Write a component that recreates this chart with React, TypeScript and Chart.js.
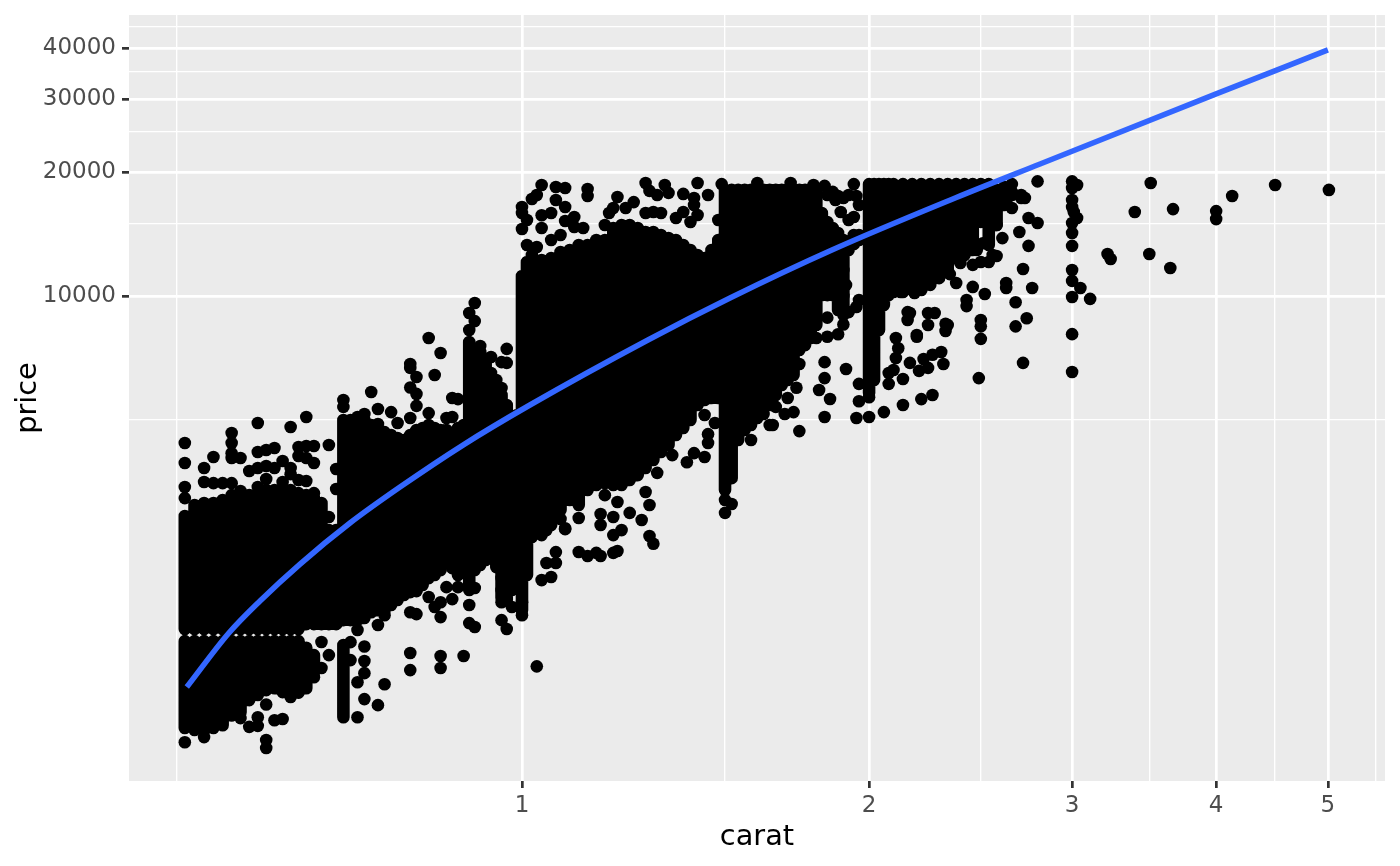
import { useEffect, useRef } from "react";
import { Chart } from "chart.js/auto";

// price ranges that are fully overplotted, one entry per carat value
const denseCarats = [
  0.51, 0.52, 0.53, 0.54, 0.55, 0.56, 0.57, 0.58, 0.59, 0.6, 0.61, 0.62, 0.63, 0.64, 0.65, 0.66, 0.67, 0.68, 0.69,
  0.7, 0.71, 0.72, 0.73, 0.74, 0.75, 0.76, 0.77, 0.78, 0.79, 0.8, 0.81, 0.82, 0.83, 0.84, 0.85, 0.86, 0.87, 0.88, 0.89,
  0.9, 0.91, 0.92, 0.93, 0.94, 0.95, 0.96, 0.97, 0.98, 0.99, 1.0, 1.01, 1.02, 1.04, 1.06, 1.08, 1.1, 1.12, 1.14, 1.16,
  1.18, 1.2, 1.22, 1.24, 1.26, 1.28, 1.3, 1.32, 1.34, 1.36, 1.38, 1.4, 1.42, 1.44, 1.46, 1.48, 1.5, 1.52, 1.54, 1.56,
  1.58, 1.6, 1.62, 1.64, 1.66, 1.68, 1.7, 1.72, 1.74, 1.76, 1.78, 1.8, 1.82, 1.84, 1.86, 1.88, 1.9, 1.92, 1.94, 1.96,
  2.0, 2.02, 2.04, 2.06, 2.08, 2.1, 2.14, 2.18, 2.22, 2.26, 2.3, 2.34, 2.38, 2.42, 2.46, 2.5, 2.54, 2.58, 2.62, 2.66,
];
const denseHighs = [
  2923, 3110, 3145, 3145, 3197, 3197, 3250, 3286, 3323, 3381, 3381, 3381, 3381, 3323, 3286, 3232, 3145, 2703, 2703,
  5000, 5000, 4863, 5000, 4863, 4728, 4674, 4600, 4523, 4472, 4600, 4728, 4782, 4863, 4782, 4728, 4728, 4650, 4782, 4863,
  7733, 7396, 7310, 6994, 6254, 6080, 5750, 5437, 5000, 5141, 11180, 12090, 12570, 12230, 12370, 12790, 12930, 13300, 13300, 13510,
  13670, 14620, 14870, 14870, 14620, 14300, 14300, 14060, 13830, 13670, 13300, 12930, 12570, 12370, 12930, 13670, 18090, 18090, 18090, 18090,
  18090, 18090, 18090, 18090, 18090, 18090, 18090, 18090, 18090, 18090, 18090, 18090, 15900, 15120, 14620, 14220, 13670, 13510, 14060, 14060,
  18690, 18690, 18690, 18690, 18690, 18690, 18690, 18690, 18690, 18690, 18690, 18690, 18690, 18690, 18690, 18690, 18690, 18090, 18390, 17890,
];
const denseLows = [
  1555, 1555, 1555, 1555, 1555, 1555, 1555, 1555, 1555, 1555, 1555, 1555, 1555, 1555, 1598, 1598, 1598, 1598, 1598,
  1634, 1634, 1634, 1653, 1708, 1728, 1728, 1778, 1828, 1880, 1911, 1933, 1988, 2067, 2102, 2161, 2260, 2445, 2102, 2223,
  1933, 2161, 2223, 2286, 2350, 2223, 1849, 1828, 1933, 2102, 1728, 2102, 2600, 2628, 2780, 3023, 3197, 3110, 3381, 3476,
  3514, 3476, 3476, 3575, 3675, 3823, 3998, 4180, 4350, 4600, 4782, 5000, 5437, 5592, 5655, 5655, 3381, 3613, 4472, 4728,
  4863, 5057, 5437, 5437, 5750, 6080, 6254, 6430, 7396, 7600, 7910, 8500, 10050, 10050, 10050, 9248, 8990, 12930, 13360, 13670,
  5816, 6254, 8270, 9510, 10050, 10230, 10230, 10340, 10340, 10640, 11050, 11560, 12370, 12570, 12930, 15130, 13300, 14870, 16630, 17590,
];

// the same, below the empty price band around 1500
const lowerCarats = [0.51, 0.52, 0.53, 0.54, 0.55, 0.56, 0.57, 0.58, 0.59, 0.6, 0.61, 0.62, 0.63, 0.64, 0.65, 0.66, 0.7];
const lowerHighs = [1453, 1453, 1453, 1453, 1453, 1453, 1453, 1453, 1453, 1453, 1453, 1453, 1453, 1453, 1400, 1344, 1422];
const lowerLows = [894, 884, 879, 894, 908, 960, 977, 1045, 1075, 1105, 1117, 1093, 1075, 1093, 1117, 1222, 950];

// diamonds that can be told apart: [carat, price]
const looseDiamonds = [
  [0.51, 4398], [0.51, 3933], [0.51, 3439], [0.51, 3232], [0.53, 3823], [0.53, 3535], [0.54, 4066], [0.54, 3514], [0.55, 3514],
  [0.56, 4650], [0.56, 4398], [0.56, 4155], [0.56, 4043], [0.56, 3514], [0.56, 3286], [0.57, 4043], [0.57, 3362], [0.58, 3760],
  [0.59, 4918], [0.59, 4180], [0.59, 3823], [0.59, 3439], [0.6, 4228], [0.6, 3866], [0.6, 3595], [0.61, 4276], [0.61, 3823],
  [0.62, 3975], [0.62, 3535], [0.63, 4810], [0.63, 3823], [0.63, 3695], [0.64, 4300], [0.64, 4088], [0.64, 3575], [0.65, 5083],
  [0.65, 4325], [0.65, 4043], [0.65, 3555], [0.66, 4325], [0.66, 3933], [0.66, 3323], [0.68, 4350], [0.68, 2908], [0.69, 3802],
  [0.69, 3400], [0.7, 5592], [0.7, 5380], [0.74, 5848], [0.75, 5318], [0.73, 5170], [0.72, 5083], [0.75, 4890], [0.77, 5226],
  [0.78, 4918], [0.8, 5057], [0.83, 5197], [0.83, 7910], [0.85, 7270], [0.84, 6430], [0.8, 6840], [0.8, 6690], [0.81, 6360],
  [0.8, 5995], [0.81, 5785], [0.81, 5410], [0.87, 5655], [0.88, 5620], [0.86, 5057], [0.87, 5083], [0.9, 9090], [0.91, 9618],
  [0.91, 8690], [0.9, 8270], [0.92, 7560], [0.94, 7110], [0.97, 7440], [0.96, 6910], [0.97, 6880], [0.94, 6500], [0.95, 6254],
  [0.96, 5980], [0.87, 2380], [0.87, 2185], [0.86, 1965], [0.88, 1965], [0.91, 1955], [0.83, 1859], [0.81, 1922], [0.87, 1838],
  [0.85, 1806], [0.84, 1758], [0.9, 1778], [0.85, 1662], [0.9, 1607], [0.91, 1572], [0.81, 1690], [0.8, 1708], [0.76, 1680],
  [0.75, 1590], [0.72, 1546], [0.71, 1445], [0.73, 1410], [0.73, 1300], [0.8, 1360], [0.8, 1236], [0.85, 1337], [0.85, 1250],
  [0.89, 1337], [1.03, 1262], [0.76, 1142], [0.75, 1016], [0.73, 1215], [0.73, 1051], [0.72, 1155], [0.72, 950], [0.67, 1446],
  [0.68, 1344], [0.67, 1250], [0.66, 1188], [0.6, 1020], [0.6, 836], [0.6, 800], [0.61, 934], [0.62, 940], [0.58, 900],
  [0.59, 905], [0.59, 950], [0.57, 945], [0.56, 960], [0.51, 826], [0.53, 850], [0.63, 1063], [0.64, 1090], [0.65, 1330],
  [0.71, 1307], [0.97, 1555], [0.96, 1634], [1.0, 1680], [0.96, 2067], [0.98, 2067], [0.96, 1933], [0.96, 1806], [1.0, 1806],
  [0.95, 2198], [0.98, 1758], [1.07, 2390], [1.07, 2248], [1.06, 2080], [1.04, 2044], [1.05, 2703], [1.09, 2730], [1.08, 2875],
  [1.05, 2908], [1.12, 2891], [1.09, 2717], [1.17, 2956], [1.17, 2780], [1.18, 3286], [1.2, 2628], [1.22, 2703], [1.2, 2908],
  [1.24, 2975], [1.21, 3162], [1.27, 2859], [1.29, 3110], [1.28, 3343], [1.29, 2614], [1.3, 2504], [1.31, 3722], [1.39, 3950],
  [1.41, 4155], [1.44, 4066], [1.35, 4110], [1.45, 4398], [1.45, 4620], [1.44, 5141], [1.47, 4918], [1.58, 4472], [1.64, 4863],
  [1.62, 5170], [1.57, 5197], [1.55, 5000], [1.66, 5380], [1.5, 3197], [1.52, 3128], [1.5, 2975], [1.12, 2392], [1.14, 2338],
  [1.16, 2380], [1.17, 2338], [1.2, 2380], [1.21, 2405], [1.05, 2248], [1.04, 18600], [1.07, 18390], [1.09, 18290], [1.14, 18190],
  [1.14, 17490], [1.03, 17590], [1.02, 17200], [1.0, 16440], [1.0, 15900], [1.07, 17100], [1.09, 16440], [1.21, 17390], [1.25, 16900],
  [1.23, 16350], [1.2, 16350], [1.19, 15900], [1.28, 18810], [1.29, 17990], [1.31, 17590], [1.33, 18600], [1.34, 17790], [1.38, 17690],
  [1.42, 18810], [1.41, 17290], [1.45, 17590], [1.41, 16630], [1.49, 18690], [1.0, 14540], [1.01, 15290], [1.04, 15700], [1.06, 15900],
  [1.04, 14620], [1.09, 15210], [1.11, 15550], [1.13, 14620], [1.11, 14700], [1.08, 14060], [1.06, 13670], [1.01, 13300], [1.03, 13150],
  [1.16, 13670], [1.18, 14870], [1.28, 15900], [1.3, 15990], [1.32, 15900], [1.38, 15990], [1.36, 15460], [1.42, 15730], [1.4, 15120],
  [1.48, 15290], [1.6, 18810], [1.71, 18810], [1.79, 18600], [1.83, 18500], [1.94, 18690], [1.84, 17590], [1.88, 17490], [1.9, 17290],
  [1.92, 17590], [1.95, 17490], [1.96, 16630], [1.87, 17100], [1.89, 15990], [1.92, 15290], [1.94, 15550], [1.86, 17890], [1.84, 8860],
  [1.9, 8530], [1.88, 8075], [1.84, 7960], [1.8, 7910], [1.96, 9779], [1.95, 9400], [1.92, 9140], [1.9, 10000], [1.91, 10640],
  [1.9, 11560], [1.83, 6910], [1.91, 6650], [1.83, 6320], [1.81, 5914], [1.85, 5625], [1.83, 5083], [1.74, 4700], [1.72, 5226],
  [1.69, 5170], [1.65, 4863], [1.7, 5655], [1.73, 5990], [1.74, 6840], [1.95, 5057], [2.0, 5083], [2.06, 5226], [2.14, 5437],
  [2.22, 5620], [2.27, 5750], [1.96, 5555], [2.0, 5680], [1.96, 6120], [2.14, 6290], [2.21, 6580], [2.25, 6690], [2.32, 6840],
  [2.17, 6880], [2.11, 7070], [2.12, 7470], [2.11, 7910], [2.2, 7960], [2.16, 8745], [2.17, 9090], [2.25, 8500], [2.25, 9090],
  [2.28, 9090], [2.33, 8560], [2.33, 8220], [2.43, 9450], [2.23, 7030], [2.27, 7200], [2.31, 7310], [2.08, 6500], [2.08, 6120],
  [2.1, 6613], [2.5, 8745], [2.5, 8440], [2.5, 7870], [2.49, 6320], [2.16, 9140], [2.34, 8500], [2.2, 8040], [2.03, 8430],
  [2.13, 10230], [2.19, 10170], [2.8, 18980], [3.0, 18980], [3.03, 18600], [3.0, 18290], [3.0, 17100], [3.0, 16440], [3.01, 15990],
  [3.03, 15460], [3.0, 15040], [3.0, 14220], [3.0, 13230], [3.0, 11560], [3.0, 10880], [3.05, 10460], [3.0, 9945], [3.11, 9840],
  [3.0, 8080], [3.0, 6540], [3.51, 18810], [3.4, 15990], [3.67, 16250], [3.22, 12640], [3.24, 12300], [3.5, 12640], [3.65, 11690],
  [4.0, 16070], [4.0, 15370], [4.13, 17490], [4.5, 18600], [5.01, 18090], [2.71, 17590], [2.73, 17290], [2.71, 17290], [2.75, 15460],
  [2.8, 15040], [2.7, 14300], [2.61, 13820], [2.75, 13230], [2.72, 11630], [2.63, 10750], [2.63, 10460], [2.77, 10460], [2.68, 9660],
  [2.74, 8830], [2.68, 8440], [2.72, 6880], [2.46, 10520], [2.52, 10110], [2.43, 9779], [2.38, 10750], [2.35, 11300], [2.66, 16350],
  [2.64, 17390], [2.66, 18690], [2.58, 12500], [2.54, 12090], [2.5, 12090], [2.46, 11900], [2.4, 12030], [2.42, 13600], [2.48, 12930],
  [2.51, 13430], [2.45, 13060], [2.58, 14870], [2.56, 12570],
];

// blue trend line
const fitCarats = [0.512, 0.5569, 0.5926, 0.642, 0.7093, 0.7838, 0.8889, 1.016, 1.286, 1.515, 1.857, 2.375, 2.814, 4.0, 5.0];
const fitPrices = [1124, 1521, 1819, 2236, 2812, 3438, 4348, 5438, 7821, 9889, 12930, 17290, 20910, 30930, 39550];

const xMajorTicks = [1, 2, 3, 4, 5];
const xMinorTicks = [0.502, 1.5, 2.5, 3.5, 4.5, 5.5];
const yMajorTicks = [10000, 20000, 30000, 40000];
const yMinorTicks = [5000, 15000, 25000, 35000, 45000];

const FONT = "'DejaVu Sans', sans-serif";

function makeTicks(major: number[], minor: number[]) {
  return [
    ...minor.map(value => ({ value, major: false })),
    ...major.map(value => ({ value, major: true })),
  ];
}

// one stroke per carat value, broken up with NaN so the strokes do not join
function rangeSegments(carats: number[], highs: number[], lows: number[]) {
  return carats.flatMap((x, i) => [
    { x, y: lows[i] },
    { x, y: highs[i] },
    { x, y: NaN },
  ]);
}

function axisOptions(major: number[], minor: number[], title: string, fit: (scale: any) => void, tickPadding: number) {
  return {
    type: "logarithmic" as const,
    afterBuildTicks: (scale: any) => {
      scale.ticks = makeTicks(major, minor);
    },
    afterFit: (scale: any) => {
      // keep the panel where it is, whatever the labels want
      scale.paddingTop = 0;
      scale.paddingBottom = 0;
      scale.paddingLeft = 0;
      scale.paddingRight = 0;
      fit(scale);
    },
    border: { display: false },
    grid: {
      color: "#ffffff",
      lineWidth: (ctx: any) => (ctx.tick?.major ? 2.7 : 1.35),
      tickLength: 7,
      tickColor: (ctx: any) => (ctx.tick?.major ? "#333333" : "rgba(0,0,0,0)"),
      tickWidth: 2.7,
    },
    ticks: {
      autoSkip: false,
      maxRotation: 0,
      minRotation: 0,
      padding: tickPadding,
      color: "#4d4d4d",
      font: { family: FONT, size: 23 },
      callback: (value: any) => (major.includes(Number(value)) ? String(value) : ""),
    },
    title: {
      display: true,
      text: title,
      color: "#000000",
      font: { family: FONT, size: 28.8 },
    },
  };
}

export default function App() {
  const canvasRef = useRef<HTMLCanvasElement | null>(null);

  useEffect(() => {
    document.body.style.margin = "0";
    if (!canvasRef.current) return;

    const panelBackground = {
      id: "panelBackground",
      beforeDraw(chart: any) {
        const { ctx, chartArea } = chart;
        ctx.save();
        ctx.fillStyle = "#ebebeb";
        ctx.fillRect(chartArea.left, chartArea.top, chartArea.width, chartArea.height);
        ctx.restore();
      },
    };

    const xAxis = axisOptions(xMajorTicks, xMinorTicks, "carat", scale => {
      scale.height = 85;
    }, 4);
    const yAxis = axisOptions(yMajorTicks, yMinorTicks, "price", scale => {
      scale.width = 129;
    }, 6);

    const chart = new Chart(canvasRef.current, {
      type: "scatter",
      data: {
        datasets: [
          {
            label: "fit",
            data: fitCarats.map((x, i) => ({ x, y: fitPrices[i] })),
            showLine: true,
            borderColor: "#3366ff",
            borderWidth: 5.6,
            pointRadius: 0,
            cubicInterpolationMode: "monotone",
          },
          {
            label: "diamonds",
            data: looseDiamonds.map(([x, y]) => ({ x, y })),
            backgroundColor: "#000000",
            borderWidth: 0,
            pointRadius: 6.3,
          },
          {
            label: "dense",
            data: rangeSegments(denseCarats, denseHighs, denseLows),
            showLine: true,
            spanGaps: false,
            borderColor: "#000000",
            borderWidth: 12.6,
            borderCapStyle: "round",
            pointRadius: 0,
          },
          {
            label: "dense lower",
            data: rangeSegments(lowerCarats, lowerHighs, lowerLows),
            showLine: true,
            spanGaps: false,
            borderColor: "#000000",
            borderWidth: 12.6,
            borderCapStyle: "round",
            pointRadius: 0,
          },
        ],
      },
      options: {
        animation: false,
        responsive: false,
        devicePixelRatio: 1,
        layout: { padding: { top: 15, right: 15, left: 0, bottom: 0 } },
        plugins: { legend: { display: false }, tooltip: { enabled: false } },
        scales: {
          x: {
            ...xAxis,
            min: 0.4562,
            max: 5.604,
            title: { ...xAxis.title, padding: { top: 0, bottom: 11 } },
          },
          y: {
            ...yAxis,
            min: 665,
            max: 48084,
            title: { ...yAxis.title, padding: { top: 11, bottom: 0 } },
          },
        },
      },
      plugins: [panelBackground],
    } as any);

    return () => {
      chart.destroy();
    };
  }, []);

  return (
    <div style={{ width: 1400, height: 866, background: "#ffffff" }}>
      <canvas id="diamonds_chart" ref={canvasRef} width={1400} height={866} style={{ display: "block" }} />
    </div>
  );
}
